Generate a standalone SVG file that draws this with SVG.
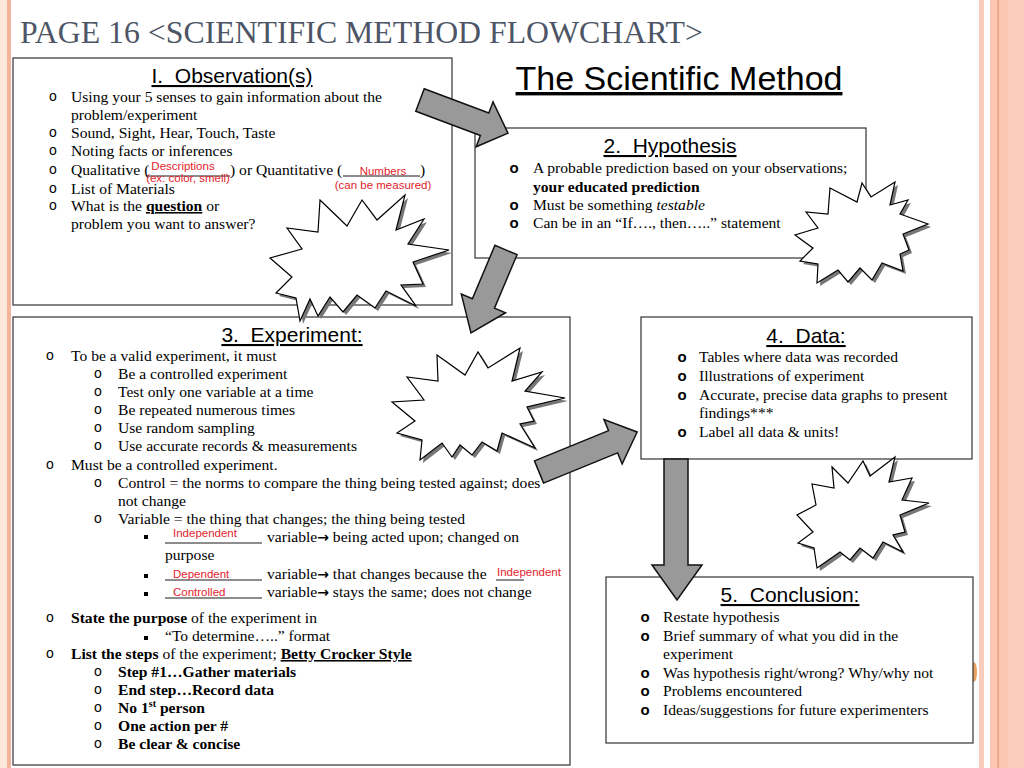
<svg xmlns="http://www.w3.org/2000/svg" width="1024" height="768" viewBox="0 0 1024 768">
<style>
.t{font-family:"Liberation Serif","Times New Roman",serif;font-size:15.6px;fill:#000}
.h{font-family:"Liberation Sans",Arial,sans-serif;font-size:21px;fill:#000;text-decoration:underline;text-anchor:middle}
.r{font-family:"Liberation Sans",Arial,sans-serif;font-size:11.5px;fill:#e3232c}
.o{font-family:"Liberation Sans",Arial,sans-serif;font-size:14px;fill:#000;text-anchor:middle}
.ob{font-family:"Liberation Sans",Arial,sans-serif;font-size:15px;font-weight:bold;fill:#000;text-anchor:middle}
.bd{font-weight:bold}
.u{text-decoration:underline}
.ar{font-family:"DejaVu Sans",sans-serif;font-weight:bold;font-size:14px}
.box{fill:#fff;stroke:#333;stroke-width:1.2}
.ul{stroke:#000;stroke-width:0.9}
.sq{fill:#000}
.star{fill:#fff;stroke:#000;stroke-width:1.2;stroke-linejoin:miter}
.shadow{fill:#777;stroke:none}
.arrow{fill:#999;stroke:#111;stroke-width:1.5;stroke-linejoin:miter}
</style>
<defs>
<polygon id="s1" points="320,200 347,226 362,200 377,220 405,195 396,230 424,219 408,244 449,250 413,262 423,284 401,285 416,306 386,291 375,308 357,295 343,312 330,297 318,316 310,299 300,321 296,298 276,293 292,277 270,258 302,249 287,228 318,232"/>
<polygon id="s2" points="830,188 857,202 862,183 871,197 895,182 890,205 908,200 900,214 928,224 903,234 909,250 900,254 903,271 882,263 872,280 860,268 848,282 838,270 817,283 818,264 800,261 813,248 795,235 818,228 806,212 828,214"/>
<polygon id="s3" points="437,355 465,375 478,352 488,368 520,348 512,381 542,372 525,391 565,398 527,407 534,421 520,424 535,448 502,433 497,451 482,442 472,455 460,445 452,457 442,443 420,460 422,440 397,433 415,421 392,402 424,400 407,377 438,381"/>
<polygon id="s4" points="832,467 848,483 863,461 870,476 895,457 889,482 912,478 902,500 929,503 900,515 905,532 893,535 903,552 883,542 873,558 860,548 850,560 840,552 817,568 814,548 798,543 813,532 797,515 816,505 812,484 834,488"/>
</defs>
<rect width="1024" height="768" fill="#fff"/>
<g id="decoration">
<rect x="0" y="0" width="7" height="768" fill="#fde7dc"/>
<rect x="7" y="0" width="4" height="768" fill="#f4b49c"/>
<rect x="979" y="0" width="5" height="768" fill="#f9cbbb"/>
<rect x="990" y="0" width="34" height="768" fill="#fbc7b2"/>
<rect x="997.5" y="0" width="1.2" height="768" fill="#e39474"/>
<rect x="1008" y="0" width="16" height="768" fill="#fccdba"/>
<ellipse cx="974" cy="672" rx="3" ry="10" fill="#e8a060"/>
</g>
<text x="20" y="43" font-family="'Liberation Serif','Times New Roman',serif" font-size="31.8" fill="#4d5566">PAGE 16 &lt;SCIENTIFIC METHOD FLOWCHART&gt;</text>
<text x="679" y="90" font-family="'Liberation Sans',Arial,sans-serif" font-size="34" fill="#000" text-anchor="middle" text-decoration="underline">The Scientific Method</text>

<g id="observation">
<rect class="box" x="13" y="58" width="439" height="247"/>
<text class="h" x="232" y="83">I.&#160; Observation(s)</text>
<text class="o" x="53" y="101">o</text><text class="t" x="71" y="102">Using your 5 senses to gain information about the</text>
<text class="t" x="71" y="120">problem/experiment</text>
<text class="o" x="53" y="137">o</text><text class="t" x="71" y="138">Sound, Sight, Hear, Touch, Taste</text>
<text class="o" x="53" y="155">o</text><text class="t" x="71" y="156">Noting facts or inferences</text>
<text class="o" x="53" y="174">o</text><text class="t" x="71" y="175">Qualitative (</text>
<line class="ul" x1="146" y1="176" x2="230" y2="176"/>
<text class="t" x="230" y="175">) or Quantitative (</text>
<line class="ul" x1="343" y1="176" x2="420" y2="176"/>
<text class="t" x="420" y="175">)</text>
<text class="r" x="183" y="170" text-anchor="middle">Descriptions</text>
<text class="r" x="188" y="181.5" text-anchor="middle" font-size="11">(ex: color, smell)</text>
<text class="r" x="383" y="175" text-anchor="middle">Numbers</text>
<text class="r" x="383" y="189" text-anchor="middle">(can be measured)</text>
<text class="o" x="53" y="193">o</text><text class="t" x="71" y="194">List of Materials</text>
<text class="o" x="53" y="210">o</text><text class="t" x="71" y="211">What is the <tspan class="bd u">question</tspan> or</text>
<text class="t" x="71" y="229">problem you want to answer?</text>
</g>

<g id="hypothesis">
<rect class="box" x="475" y="128" width="391" height="130"/>
<text class="h" x="670" y="153">2.&#160; Hypothesis</text>
<text class="ob" x="514" y="173">o</text><text class="t" x="533" y="173">A probable prediction based on your observations;</text>
<text class="t bd" x="533" y="192">your educated prediction</text>
<text class="ob" x="514" y="210">o</text><text class="t" x="533" y="210">Must be something <tspan font-style="italic">testable</tspan></text>
<text class="ob" x="514" y="228">o</text><text class="t" x="533" y="228">Can be in an “If…., then…..” statement</text>
</g>

<g id="experiment">
<rect class="box" x="13" y="317" width="557" height="448"/>
<text class="h" x="292" y="342">3.&#160; Experiment:</text>
<text class="o" x="50" y="360">o</text><text class="t" x="71" y="361">To be a valid experiment, it must</text>
<text class="o" x="98" y="378">o</text><text class="t" x="118" y="379">Be a controlled experiment</text>
<text class="o" x="98" y="396">o</text><text class="t" x="118" y="397">Test only one variable at a time</text>
<text class="o" x="98" y="414">o</text><text class="t" x="118" y="415">Be repeated numerous times</text>
<text class="o" x="98" y="432">o</text><text class="t" x="118" y="433">Use random sampling</text>
<text class="o" x="98" y="450">o</text><text class="t" x="118" y="451">Use accurate records &amp; measurements</text>
<text class="o" x="50" y="469">o</text><text class="t" x="71" y="470">Must be a controlled experiment.</text>
<text class="o" x="98" y="487">o</text><text class="t" x="118" y="488">Control = the norms to compare the thing being tested against; does</text>
<text class="t" x="118" y="506">not change</text>
<text class="o" x="98" y="523">o</text><text class="t" x="118" y="524">Variable = the thing that changes; the thing being tested</text>
<rect class="sq" x="144" y="535" width="4" height="4"/>
<line class="ul" x1="165" y1="543" x2="262" y2="543"/>
<text class="r" x="173" y="537">Independent</text>
<text class="t" x="267" y="542">variable<tspan class="ar">→</tspan> being acted upon; changed on</text>
<text class="t" x="165" y="560">purpose</text>
<rect class="sq" x="144" y="574" width="4" height="4"/>
<line class="ul" x1="165" y1="580" x2="262" y2="580"/>
<text class="r" x="173" y="578">Dependent</text>
<text class="t" x="267" y="579">variable<tspan class="ar">→</tspan> that changes because the</text>
<line class="ul" x1="496" y1="580" x2="524" y2="580"/>
<text class="r" x="497" y="576">Independent</text>
<rect class="sq" x="144" y="592" width="4" height="4"/>
<line class="ul" x1="165" y1="598" x2="262" y2="598"/>
<text class="r" x="173" y="596">Controlled</text>
<text class="t" x="267" y="597">variable<tspan class="ar">→</tspan> stays the same; does not change</text>
<text class="o" x="50" y="622">o</text><text class="t" x="71" y="623"><tspan class="bd">State the purpose</tspan> of the experiment in</text>
<rect class="sq" x="144" y="636" width="4" height="4"/>
<text class="t" x="165" y="641">“To determine…..” format</text>
<text class="o" x="50" y="658">o</text><text class="t" x="71" y="659"><tspan class="bd">List the steps</tspan> of the experiment; <tspan class="bd u">Betty Crocker Style</tspan></text>
<text class="o" x="98" y="676">o</text><text class="t bd" x="118" y="677">Step #1…Gather materials</text>
<text class="o" x="98" y="694">o</text><text class="t bd" x="118" y="695">End step…Record data</text>
<text class="o" x="98" y="712">o</text><text class="t bd" x="118" y="713">No 1<tspan font-size="10" dy="-6">st</tspan><tspan dy="6"> person</tspan></text>
<text class="o" x="98" y="730">o</text><text class="t bd" x="118" y="731">One action per #</text>
<text class="o" x="98" y="748">o</text><text class="t bd" x="118" y="749">Be clear &amp; concise</text>
</g>

<g id="data">
<rect class="box" x="641" y="317" width="331" height="142"/>
<text class="h" x="806" y="343">4.&#160; Data:</text>
<text class="ob" x="682" y="362">o</text><text class="t" x="699" y="362">Tables where data was recorded</text>
<text class="ob" x="682" y="381">o</text><text class="t" x="699" y="381">Illustrations of experiment</text>
<text class="ob" x="682" y="400">o</text><text class="t" x="699" y="400">Accurate, precise data graphs to present</text>
<text class="t" x="699" y="418">findings***</text>
<text class="ob" x="682" y="437">o</text><text class="t" x="699" y="437">Label all data &amp; units!</text>
</g>

<g id="conclusion">
<rect class="box" x="606" y="577" width="367" height="166"/>
<text class="h" x="790" y="602">5.&#160; Conclusion:</text>
<text class="ob" x="645" y="622">o</text><text class="t" x="663" y="622">Restate hypothesis</text>
<text class="ob" x="645" y="641">o</text><text class="t" x="663" y="641">Brief summary of what you did in the</text>
<text class="t" x="663" y="659">experiment</text>
<text class="ob" x="645" y="678">o</text><text class="t" x="663" y="678">Was hypothesis right/wrong? Why/why not</text>
<text class="ob" x="645" y="696">o</text><text class="t" x="663" y="696">Problems encountered</text>
<text class="ob" x="645" y="715">o</text><text class="t" x="663" y="715">Ideas/suggestions for future experimenters</text>
</g>

<g id="stars">
<use href="#s1" class="shadow" transform="translate(3,3)"/><use href="#s1" class="star"/>
<use href="#s2" class="shadow" transform="translate(3,3)"/><use href="#s2" class="star"/>
<use href="#s3" class="shadow" transform="translate(3,3)"/><use href="#s3" class="star"/>
<use href="#s4" class="shadow" transform="translate(3,3)"/><use href="#s4" class="star"/>
</g>

<g id="connectors">
<polygon class="arrow" transform="translate(420,100) rotate(20.6)" points="0,-12 69,-12 69,-24 94,0 69,24 69,12 0,12"/>
<polygon class="arrow" transform="translate(506,250) rotate(112.9)" points="0,-12 58,-12 58,-24 90,0 58,24 58,12 0,12"/>
<polygon class="arrow" transform="translate(539,472) rotate(-22.2)" points="0,-12 80,-12 80,-24 106,0 80,24 80,12 0,12"/>
<polygon class="arrow" points="664,459 688,459 688,565 702,565 677,600 652,565 664,565"/>
</g>
</svg>
